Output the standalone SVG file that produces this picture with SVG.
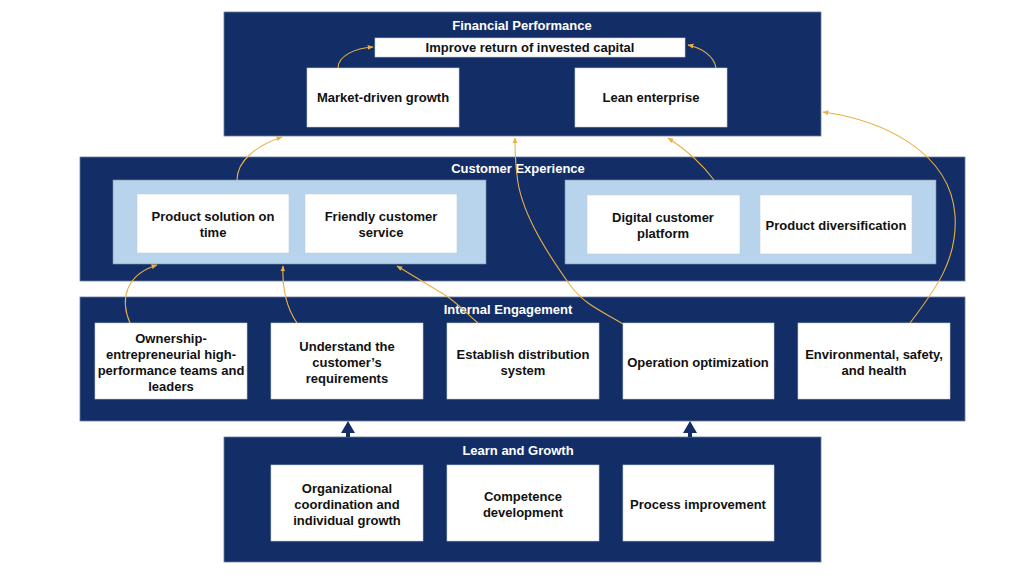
<svg xmlns="http://www.w3.org/2000/svg" width="1024" height="576" viewBox="0 0 1024 576">
<defs>
<style>
.panel{fill:#132e66;stroke:#6b7a99;stroke-width:0.8}
.lb{fill:#b8d3ec;stroke:#7d8fa8;stroke-width:0.6}
.box{fill:#ffffff;stroke:#c8cdd6;stroke-width:0.6}
.t{font-family:"Liberation Sans",Arial,sans-serif;font-size:13px;font-weight:bold;fill:#111111;text-anchor:middle}
.title{font-family:"Liberation Sans",Arial,sans-serif;font-size:13px;font-weight:bold;fill:#ffffff;text-anchor:middle}
.c{fill:none;stroke:#eab044;stroke-width:1.1;marker-end:url(#oa)}
.db{fill:#132e66}
</style>
<marker id="oa" viewBox="0 0 10 10" refX="9" refY="5" markerWidth="6" markerHeight="6" orient="auto" markerUnits="userSpaceOnUse">
<path d="M0,1 L10,5 L0,9 Z" fill="#eab044"/>
</marker>
</defs>

<g id="financial">
<rect class="panel" x="224" y="12" width="597" height="124"/>
<text class="title" x="522" y="30">Financial Performance</text>
<g id="improve"><rect class="box" x="375" y="38" width="310" height="19"/><text class="t" x="530" y="52">Improve return of invested capital</text></g>
<g id="market"><rect class="box" x="307" y="68" width="152" height="59"/><text class="t" x="383" y="102">Market-driven growth</text></g>
<g id="lean"><rect class="box" x="575" y="68" width="152" height="59"/><text class="t" x="651" y="102">Lean enterprise</text></g>
</g>

<g id="customer">
<rect class="panel" x="80" y="157" width="885" height="124"/>
<text class="title" x="518" y="173">Customer Experience</text>
<rect class="lb" x="113" y="180" width="373" height="84"/>
<rect class="lb" x="565" y="180" width="371" height="84"/>
<g id="product-solution"><rect class="box" x="137" y="194" width="152" height="59"/><text class="t" x="213" y="221">Product solution on</text><text class="t" x="213" y="237">time</text></g>
<g id="friendly"><rect class="box" x="305" y="194" width="152" height="59"/><text class="t" x="381" y="221">Friendly customer</text><text class="t" x="381" y="237">service</text></g>
<g id="digital"><rect class="box" x="587" y="195" width="153" height="59"/><text class="t" x="663" y="222">Digital customer</text><text class="t" x="663" y="238">platform</text></g>
<g id="diversification"><rect class="box" x="760" y="195" width="152" height="59"/><text class="t" x="836" y="230">Product diversification</text></g>
</g>

<g id="internal">
<rect class="panel" x="80" y="297" width="885" height="124"/>
<text class="title" x="508" y="314">Internal Engagement</text>
<g id="ownership"><rect class="box" x="95" y="323" width="152" height="76"/><text class="t" x="171" y="343">Ownership-</text><text class="t" x="171" y="359">entrepreneurial high-</text><text class="t" x="171" y="375">performance teams and</text><text class="t" x="171" y="391">leaders</text></g>
<g id="understand"><rect class="box" x="271" y="323" width="152" height="76"/><text class="t" x="347" y="351">Understand the</text><text class="t" x="347" y="367">customer’s</text><text class="t" x="347" y="383">requirements</text></g>
<g id="establish"><rect class="box" x="447" y="323" width="152" height="76"/><text class="t" x="523" y="359">Establish distribution</text><text class="t" x="523" y="375">system</text></g>
<g id="operation"><rect class="box" x="623" y="323" width="151" height="76"/><text class="t" x="698" y="367">Operation optimization</text></g>
<g id="environmental"><rect class="box" x="798" y="323" width="152" height="76"/><text class="t" x="874" y="359">Environmental, safety,</text><text class="t" x="874" y="375">and health</text></g>
</g>

<g id="learn">
<rect class="panel" x="224" y="437" width="597" height="125"/>
<text class="title" x="518" y="455">Learn and Growth</text>
<g id="organizational"><rect class="box" x="271" y="465" width="152" height="76"/><text class="t" x="347" y="493">Organizational</text><text class="t" x="347" y="509">coordination and</text><text class="t" x="347" y="525">individual growth</text></g>
<g id="competence"><rect class="box" x="447" y="465" width="152" height="76"/><text class="t" x="523" y="501">Competence</text><text class="t" x="523" y="517">development</text></g>
<g id="process"><rect class="box" x="623" y="465" width="151" height="76"/><text class="t" x="698" y="509">Process improvement</text></g>
</g>

<g id="connectors">
<path class="c" d="M338,68 C338,56 355,48 373,47"/>
<path class="c" d="M716,68 C714,56 702,48 688,45"/>
<path class="c" d="M237,180 C237,160 258,145 282,137"/>
<path class="c" d="M623,324 C600,310 585,305 570,285 C545,250 520,210 517,175 C515,160 515,150 515,138"/>
<path class="c" d="M714,180 C705,168 690,152 668,138"/>
<path class="c" d="M910,323 C935,290 958,260 955,215 C950,150 880,120 823,112"/>
<path class="c" d="M130,323 C120,300 125,275 157,265"/>
<path class="c" d="M297,323 C288,310 282,290 283,266"/>
<path class="c" d="M478,323 C465,312 455,300 440,292 C425,283 410,274 397,266"/>
<path class="db" d="M346,437 L346,433 L341,433 L348,421 L355,433 L350,433 L350,437 Z"/>
<path class="db" d="M688,437 L688,433 L683,433 L690,421 L697,433 L692,433 L692,437 Z"/>
</g>
</svg>
